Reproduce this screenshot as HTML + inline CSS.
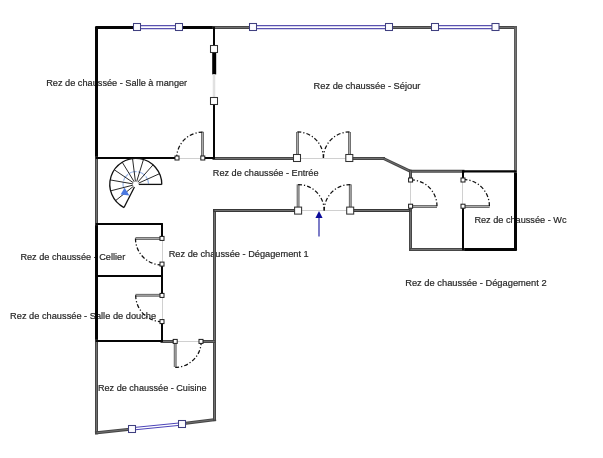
<!DOCTYPE html>
<html><head><meta charset="utf-8"><style>html,body{margin:0;padding:0;background:#fff;width:603px;height:458px;overflow:hidden}svg{display:block;will-change:transform}text{font-family:"Liberation Sans",sans-serif}</style></head><body>
<svg width="603" height="458" viewBox="0 0 603 458">
<rect width="603" height="458" fill="#fff"/>
<text x="46.199999999999996" y="85.6" textLength="141.0" lengthAdjust="spacingAndGlyphs" font-family="Liberation Sans" font-size="9.9" fill="#262626" stroke="#262626" stroke-width="0.2">Rez de chaussée - Salle à manger</text>
<text x="313.59999999999997" y="88.6" textLength="106.8" lengthAdjust="spacingAndGlyphs" font-family="Liberation Sans" font-size="9.9" fill="#262626" stroke="#262626" stroke-width="0.2">Rez de chaussée - Séjour</text>
<text x="212.8" y="175.9" textLength="105.7" lengthAdjust="spacingAndGlyphs" font-family="Liberation Sans" font-size="9.9" fill="#262626" stroke="#262626" stroke-width="0.2">Rez de chaussée - Entrée</text>
<text x="474.4" y="222.9" textLength="92.1" lengthAdjust="spacingAndGlyphs" font-family="Liberation Sans" font-size="9.9" fill="#262626" stroke="#262626" stroke-width="0.2">Rez de chaussée - Wc</text>
<text x="20.4" y="259.9" textLength="104.8" lengthAdjust="spacingAndGlyphs" font-family="Liberation Sans" font-size="9.9" fill="#262626" stroke="#262626" stroke-width="0.2">Rez de chaussée - Cellier</text>
<text x="168.70000000000002" y="256.8" textLength="140.0" lengthAdjust="spacingAndGlyphs" font-family="Liberation Sans" font-size="9.9" fill="#262626" stroke="#262626" stroke-width="0.2">Rez de chaussée - Dégagement 1</text>
<text x="405.2" y="285.7" textLength="141.4" lengthAdjust="spacingAndGlyphs" font-family="Liberation Sans" font-size="9.9" fill="#262626" stroke="#262626" stroke-width="0.2">Rez de chaussée - Dégagement 2</text>
<text x="10.1" y="319.1" textLength="146.0" lengthAdjust="spacingAndGlyphs" font-family="Liberation Sans" font-size="9.9" fill="#262626" stroke="#262626" stroke-width="0.2">Rez de chaussée - Salle de douche</text>
<text x="98.0" y="390.5" textLength="108.6" lengthAdjust="spacingAndGlyphs" font-family="Liberation Sans" font-size="9.9" fill="#262626" stroke="#262626" stroke-width="0.2">Rez de chaussée - Cuisine</text>
<line x1="96.5" y1="27.5" x2="134" y2="27.5" stroke="#050505" stroke-width="3" stroke-linecap="round"/>
<line x1="180" y1="27.5" x2="214" y2="27.5" stroke="#050505" stroke-width="3" stroke-linecap="round"/>
<line x1="96.5" y1="27.5" x2="96.5" y2="158.0" stroke="#050505" stroke-width="3" stroke-linecap="round"/>
<line x1="96.5" y1="223.8" x2="96.5" y2="341" stroke="#050505" stroke-width="3" stroke-linecap="round"/>
<line x1="515.5" y1="171.3" x2="515.5" y2="249.5" stroke="#050505" stroke-width="3" stroke-linecap="round"/>
<line x1="463" y1="249.5" x2="515.5" y2="249.5" stroke="#050505" stroke-width="3" stroke-linecap="round"/>
<line x1="214" y1="27.5" x2="250" y2="27.5" stroke="#464646" stroke-width="3" stroke-linecap="square"/>
<line x1="214" y1="27.5" x2="250" y2="27.5" stroke="#707070" stroke-width="1"/>
<line x1="392" y1="27.5" x2="432" y2="27.5" stroke="#464646" stroke-width="3" stroke-linecap="square"/>
<line x1="392" y1="27.5" x2="432" y2="27.5" stroke="#707070" stroke-width="1"/>
<line x1="499" y1="27.5" x2="515.5" y2="27.5" stroke="#464646" stroke-width="3" stroke-linecap="square"/>
<line x1="499" y1="27.5" x2="515.5" y2="27.5" stroke="#707070" stroke-width="1"/>
<line x1="515.5" y1="27.5" x2="515.5" y2="171.3" stroke="#5a5a5a" stroke-width="3" stroke-linecap="square"/>
<line x1="515.5" y1="27.5" x2="515.5" y2="171.3" stroke="#747474" stroke-width="1"/>
<line x1="96.5" y1="158.0" x2="96.5" y2="223.8" stroke="#464646" stroke-width="3" stroke-linecap="square"/>
<line x1="96.5" y1="158.0" x2="96.5" y2="223.8" stroke="#707070" stroke-width="1"/>
<line x1="96.5" y1="341" x2="96.5" y2="432.8" stroke="#464646" stroke-width="3" stroke-linecap="square"/>
<line x1="96.5" y1="341" x2="96.5" y2="432.8" stroke="#707070" stroke-width="1"/>
<line x1="96.5" y1="432.8" x2="128.5" y2="429.3" stroke="#464646" stroke-width="3" stroke-linecap="square"/>
<line x1="96.5" y1="432.8" x2="128.5" y2="429.3" stroke="#707070" stroke-width="1"/>
<line x1="185.5" y1="423.3" x2="214.6" y2="419.6" stroke="#464646" stroke-width="3" stroke-linecap="square"/>
<line x1="185.5" y1="423.3" x2="214.6" y2="419.6" stroke="#707070" stroke-width="1"/>
<line x1="214.5" y1="210.5" x2="214.5" y2="419.6" stroke="#464646" stroke-width="3" stroke-linecap="square"/>
<line x1="214.5" y1="210.5" x2="214.5" y2="419.6" stroke="#707070" stroke-width="1"/>
<line x1="214" y1="158.5" x2="293.5" y2="158.5" stroke="#464646" stroke-width="3" stroke-linecap="square"/>
<line x1="214" y1="158.5" x2="293.5" y2="158.5" stroke="#707070" stroke-width="1"/>
<line x1="353" y1="158.5" x2="383.5" y2="158.5" stroke="#464646" stroke-width="3" stroke-linecap="square"/>
<line x1="353" y1="158.5" x2="383.5" y2="158.5" stroke="#707070" stroke-width="1"/>
<line x1="383.5" y1="158.5" x2="410.5" y2="171.3" stroke="#464646" stroke-width="3" stroke-linecap="butt"/>
<line x1="383.5" y1="158.5" x2="410.5" y2="171.3" stroke="#707070" stroke-width="1"/>
<line x1="410.5" y1="171.3" x2="463" y2="171.3" stroke="#464646" stroke-width="3" stroke-linecap="square"/>
<line x1="410.5" y1="171.3" x2="463" y2="171.3" stroke="#707070" stroke-width="1"/>
<line x1="410.5" y1="171.3" x2="410.5" y2="178" stroke="#464646" stroke-width="3" stroke-linecap="square"/>
<line x1="410.5" y1="171.3" x2="410.5" y2="178" stroke="#707070" stroke-width="1"/>
<line x1="410.5" y1="208.2" x2="410.5" y2="249.5" stroke="#464646" stroke-width="3" stroke-linecap="square"/>
<line x1="410.5" y1="208.2" x2="410.5" y2="249.5" stroke="#707070" stroke-width="1"/>
<line x1="410.5" y1="249.5" x2="463" y2="249.5" stroke="#464646" stroke-width="3" stroke-linecap="square"/>
<line x1="410.5" y1="249.5" x2="463" y2="249.5" stroke="#707070" stroke-width="1"/>
<line x1="214.5" y1="210.5" x2="294.6" y2="210.5" stroke="#383838" stroke-width="3" stroke-linecap="square"/>
<line x1="214.5" y1="210.5" x2="294.6" y2="210.5" stroke="#707070" stroke-width="1"/>
<line x1="353.7" y1="210.5" x2="409" y2="210.5" stroke="#383838" stroke-width="3" stroke-linecap="square"/>
<line x1="353.7" y1="210.5" x2="409" y2="210.5" stroke="#707070" stroke-width="1"/>
<line x1="162" y1="341.5" x2="173.2" y2="341.5" stroke="#464646" stroke-width="3" stroke-linecap="square"/>
<line x1="162" y1="341.5" x2="173.2" y2="341.5" stroke="#707070" stroke-width="1"/>
<line x1="203" y1="341.5" x2="214.5" y2="341.5" stroke="#464646" stroke-width="3" stroke-linecap="square"/>
<line x1="203" y1="341.5" x2="214.5" y2="341.5" stroke="#707070" stroke-width="1"/>
<line x1="214" y1="27.5" x2="214" y2="45.5" stroke="#050505" stroke-width="2" stroke-linecap="round"/>
<line x1="214.2" y1="52.5" x2="214.2" y2="74.4" stroke="#000" stroke-width="4"/>
<line x1="214" y1="74.4" x2="214" y2="97.5" stroke="#d4d4d4" stroke-width="2.4"/>
<line x1="214" y1="74.4" x2="214" y2="97.5" stroke="#f4f4f4" stroke-width="0.8"/>
<line x1="214" y1="104.5" x2="214" y2="158.0" stroke="#050505" stroke-width="2" stroke-linecap="round"/>
<line x1="96.5" y1="158.0" x2="175" y2="158.0" stroke="#050505" stroke-width="2" stroke-linecap="round"/>
<line x1="204.8" y1="158.0" x2="214" y2="158.0" stroke="#050505" stroke-width="2" stroke-linecap="round"/>
<line x1="96.5" y1="224" x2="162" y2="224" stroke="#050505" stroke-width="2" stroke-linecap="round"/>
<line x1="162" y1="224" x2="162" y2="236.4" stroke="#050505" stroke-width="2" stroke-linecap="round"/>
<line x1="162" y1="266" x2="162" y2="293.4" stroke="#050505" stroke-width="2" stroke-linecap="round"/>
<line x1="162" y1="323.6" x2="162" y2="341" stroke="#050505" stroke-width="2" stroke-linecap="round"/>
<line x1="96.5" y1="276" x2="162" y2="276" stroke="#050505" stroke-width="2" stroke-linecap="round"/>
<line x1="96.5" y1="341" x2="162" y2="341" stroke="#050505" stroke-width="2" stroke-linecap="round"/>
<line x1="463" y1="171.3" x2="515.5" y2="171.3" stroke="#050505" stroke-width="2.3" stroke-linecap="round"/>
<line x1="463" y1="171.3" x2="463" y2="177.5" stroke="#050505" stroke-width="2" stroke-linecap="round"/>
<line x1="463" y1="208.2" x2="463" y2="249.5" stroke="#050505" stroke-width="2" stroke-linecap="round"/>
<line x1="179" y1="158.5" x2="200.8" y2="158.5" stroke="#d0d0d0" stroke-width="1"/>
<line x1="300.5" y1="158.5" x2="345.8" y2="158.5" stroke="#d0d0d0" stroke-width="1"/>
<line x1="301.6" y1="210.5" x2="346.7" y2="210.5" stroke="#d0d0d0" stroke-width="1"/>
<line x1="410.5" y1="182" x2="410.5" y2="204.2" stroke="#d0d0d0" stroke-width="1"/>
<line x1="462.5" y1="181.5" x2="462.5" y2="204.2" stroke="#d0d0d0" stroke-width="1"/>
<line x1="162.5" y1="240.4" x2="162.5" y2="262" stroke="#d0d0d0" stroke-width="1"/>
<line x1="162.5" y1="297.4" x2="162.5" y2="319.6" stroke="#d0d0d0" stroke-width="1"/>
<line x1="177.2" y1="341.5" x2="199" y2="341.5" stroke="#d0d0d0" stroke-width="1"/>
<line x1="202.5" y1="131.8" x2="202.5" y2="156" stroke="#6a6a6a" stroke-width="2.9"/>
<line x1="202.5" y1="131.8" x2="202.5" y2="156" stroke="#ababab" stroke-width="1"/>
<path d="M202.50,132.20 A25.8,25.8 0 0 0 176.70,158.00" fill="none" stroke="#111" stroke-width="1.25" stroke-dasharray="4 2 1.2 2"/>
<line x1="297.5" y1="132" x2="297.5" y2="154" stroke="#6a6a6a" stroke-width="2.9"/>
<line x1="297.5" y1="132" x2="297.5" y2="154" stroke="#ababab" stroke-width="1"/>
<path d="M297.40,131.90 A26,26 0 0 1 323.40,157.90" fill="none" stroke="#111" stroke-width="1.25" stroke-dasharray="4 2 1.2 2"/>
<line x1="349.5" y1="132" x2="349.5" y2="154" stroke="#6a6a6a" stroke-width="2.9"/>
<line x1="349.5" y1="132" x2="349.5" y2="154" stroke="#ababab" stroke-width="1"/>
<path d="M349.50,131.90 A26,26 0 0 0 323.50,157.90" fill="none" stroke="#111" stroke-width="1.25" stroke-dasharray="4 2 1.2 2"/>
<line x1="298.1" y1="184.4" x2="298.1" y2="207" stroke="#6a6a6a" stroke-width="2.9"/>
<line x1="298.1" y1="184.4" x2="298.1" y2="207" stroke="#ababab" stroke-width="1"/>
<path d="M298.10,184.50 A26.1,26.1 0 0 1 324.20,210.60" fill="none" stroke="#111" stroke-width="1.25" stroke-dasharray="4 2 1.2 2"/>
<line x1="350.3" y1="184.4" x2="350.3" y2="207" stroke="#6a6a6a" stroke-width="2.9"/>
<line x1="350.3" y1="184.4" x2="350.3" y2="207" stroke="#ababab" stroke-width="1"/>
<path d="M350.30,184.50 A26.1,26.1 0 0 0 324.20,210.60" fill="none" stroke="#111" stroke-width="1.25" stroke-dasharray="4 2 1.2 2"/>
<line x1="412.5" y1="206.5" x2="437" y2="206.5" stroke="#6a6a6a" stroke-width="2.9"/>
<line x1="412.5" y1="206.5" x2="437" y2="206.5" stroke="#ababab" stroke-width="1"/>
<path d="M437.00,206.20 A26.4,26.4 0 0 0 410.60,179.80" fill="none" stroke="#111" stroke-width="1.25" stroke-dasharray="4 2 1.2 2"/>
<line x1="465" y1="206.5" x2="489.6" y2="206.5" stroke="#6a6a6a" stroke-width="2.9"/>
<line x1="465" y1="206.5" x2="489.6" y2="206.5" stroke="#ababab" stroke-width="1"/>
<path d="M489.40,206.00 A26.6,26.6 0 0 0 462.80,179.40" fill="none" stroke="#111" stroke-width="1.25" stroke-dasharray="4 2 1.2 2"/>
<line x1="160" y1="238.5" x2="135.5" y2="238.5" stroke="#6a6a6a" stroke-width="2.9"/>
<line x1="160" y1="238.5" x2="135.5" y2="238.5" stroke="#ababab" stroke-width="1"/>
<path d="M135.50,238.50 A26.5,26.5 0 0 0 162.00,265.00" fill="none" stroke="#111" stroke-width="1.25" stroke-dasharray="4 2 1.2 2"/>
<line x1="160" y1="295.3" x2="135.5" y2="295.3" stroke="#6a6a6a" stroke-width="2.9"/>
<line x1="160" y1="295.3" x2="135.5" y2="295.3" stroke="#ababab" stroke-width="1"/>
<path d="M135.70,295.30 A26.3,26.3 0 0 0 162.00,321.60" fill="none" stroke="#111" stroke-width="1.25" stroke-dasharray="4 2 1.2 2"/>
<line x1="175.2" y1="343.4" x2="175.2" y2="367" stroke="#6a6a6a" stroke-width="2.9"/>
<line x1="175.2" y1="343.4" x2="175.2" y2="367" stroke="#ababab" stroke-width="1"/>
<path d="M175.20,367.40 A26,26 0 0 0 201.20,341.40" fill="none" stroke="#111" stroke-width="1.25" stroke-dasharray="4 2 1.2 2"/>
<line x1="137.00" y1="25.50" x2="179.00" y2="25.50" stroke="#5a52b0" stroke-width="1.25"/>
<line x1="137.00" y1="28.50" x2="179.00" y2="28.50" stroke="#5a52b0" stroke-width="1.25"/>
<line x1="253.00" y1="25.50" x2="389.00" y2="25.50" stroke="#5a52b0" stroke-width="1.25"/>
<line x1="253.00" y1="28.50" x2="389.00" y2="28.50" stroke="#5a52b0" stroke-width="1.25"/>
<line x1="435.00" y1="25.50" x2="495.50" y2="25.50" stroke="#5a52b0" stroke-width="1.25"/>
<line x1="435.00" y1="28.50" x2="495.50" y2="28.50" stroke="#5a52b0" stroke-width="1.25"/>
<line x1="131.78" y1="427.71" x2="181.88" y2="422.71" stroke="#4c44b8" stroke-width="1.0"/>
<line x1="132.02" y1="430.09" x2="182.12" y2="425.09" stroke="#4c44b8" stroke-width="1.0"/>
<rect x="133.50" y="23.50" width="7" height="7" fill="#fcfcff" stroke="#404080" stroke-width="1.05"/>
<rect x="175.50" y="23.50" width="7" height="7" fill="#fcfcff" stroke="#404080" stroke-width="1.05"/>
<rect x="249.50" y="23.50" width="7" height="7" fill="#fcfcff" stroke="#404080" stroke-width="1.05"/>
<rect x="385.50" y="23.50" width="7" height="7" fill="#fcfcff" stroke="#404080" stroke-width="1.05"/>
<rect x="431.50" y="23.50" width="7" height="7" fill="#fcfcff" stroke="#404080" stroke-width="1.05"/>
<rect x="492.00" y="23.50" width="7" height="7" fill="#fcfcff" stroke="#404080" stroke-width="1.05"/>
<rect x="128.50" y="425.50" width="7" height="7" fill="#fcfcff" stroke="#404080" stroke-width="1.05"/>
<rect x="178.50" y="420.50" width="7" height="7" fill="#fcfcff" stroke="#404080" stroke-width="1.05"/>
<rect x="210.50" y="45.50" width="7" height="7" fill="#fff" stroke="#333" stroke-width="1.05"/>
<rect x="210.50" y="97.50" width="7" height="7" fill="#fff" stroke="#333" stroke-width="1.05"/>
<rect x="293.50" y="154.50" width="7" height="7" fill="#fff" stroke="#333" stroke-width="1.05"/>
<rect x="345.80" y="154.50" width="7" height="7" fill="#fff" stroke="#333" stroke-width="1.05"/>
<rect x="294.60" y="207.10" width="7" height="7" fill="#fff" stroke="#333" stroke-width="1.05"/>
<rect x="346.70" y="207.10" width="7" height="7" fill="#fff" stroke="#333" stroke-width="1.05"/>
<rect x="175.00" y="156.00" width="4" height="4" fill="#fff" stroke="#1a1a1a" stroke-width="1"/>
<rect x="200.80" y="156.00" width="4" height="4" fill="#fff" stroke="#1a1a1a" stroke-width="1"/>
<rect x="408.60" y="178.00" width="4" height="4" fill="#fff" stroke="#1a1a1a" stroke-width="1"/>
<rect x="408.60" y="204.20" width="4" height="4" fill="#fff" stroke="#1a1a1a" stroke-width="1"/>
<rect x="461.00" y="178.00" width="4" height="4" fill="#fff" stroke="#1a1a1a" stroke-width="1"/>
<rect x="461.00" y="204.20" width="4" height="4" fill="#fff" stroke="#1a1a1a" stroke-width="1"/>
<rect x="160.00" y="236.40" width="4" height="4" fill="#fff" stroke="#1a1a1a" stroke-width="1"/>
<rect x="160.00" y="262.10" width="4" height="4" fill="#fff" stroke="#1a1a1a" stroke-width="1"/>
<rect x="160.00" y="293.40" width="4" height="4" fill="#fff" stroke="#1a1a1a" stroke-width="1"/>
<rect x="160.00" y="319.60" width="4" height="4" fill="#fff" stroke="#1a1a1a" stroke-width="1"/>
<rect x="173.20" y="339.40" width="4" height="4" fill="#fff" stroke="#1a1a1a" stroke-width="1"/>
<rect x="199.00" y="339.40" width="4" height="4" fill="#fff" stroke="#1a1a1a" stroke-width="1"/>
<path d="M148.58,183.73 A12.8,12.8 0 1 0 123.63,188.36" fill="none" stroke="#98b4e6" stroke-width="1.15" stroke-dasharray="8 1.2"/>
<path d="M161.8,184.4 A26,26 0 1 0 124.00,207.57" fill="none" stroke="#111" stroke-width="1.3"/>
<line x1="138.80" y1="184.40" x2="161.80" y2="184.40" stroke="#111" stroke-width="1.3"/>
<line x1="138.53" y1="183.17" x2="159.50" y2="173.70" stroke="#111" stroke-width="0.9"/>
<line x1="137.78" y1="182.15" x2="152.99" y2="164.90" stroke="#111" stroke-width="0.9"/>
<line x1="136.68" y1="181.53" x2="143.45" y2="159.55" stroke="#111" stroke-width="0.9"/>
<line x1="135.42" y1="181.42" x2="132.54" y2="158.61" stroke="#111" stroke-width="0.9"/>
<line x1="134.23" y1="181.84" x2="122.22" y2="162.23" stroke="#111" stroke-width="0.9"/>
<line x1="133.32" y1="182.71" x2="114.30" y2="169.79" stroke="#111" stroke-width="0.9"/>
<line x1="132.84" y1="183.88" x2="110.19" y2="179.93" stroke="#111" stroke-width="0.9"/>
<line x1="132.89" y1="185.15" x2="110.62" y2="190.87" stroke="#111" stroke-width="0.9"/>
<line x1="133.46" y1="186.28" x2="115.51" y2="200.66" stroke="#111" stroke-width="0.9"/>
<line x1="134.44" y1="187.07" x2="124.00" y2="207.57" stroke="#111" stroke-width="1.3"/>
<polygon points="124.6,187.8 120.6,194.4 129.4,195.4" fill="#4a78e0"/>
<line x1="319" y1="216" x2="319" y2="236.6" stroke="#4545b0" stroke-width="1.4"/>
<polygon points="319,210.9 315.4,217.9 322.6,217.9" fill="#0a0a9a"/>
</svg>
</body></html>
